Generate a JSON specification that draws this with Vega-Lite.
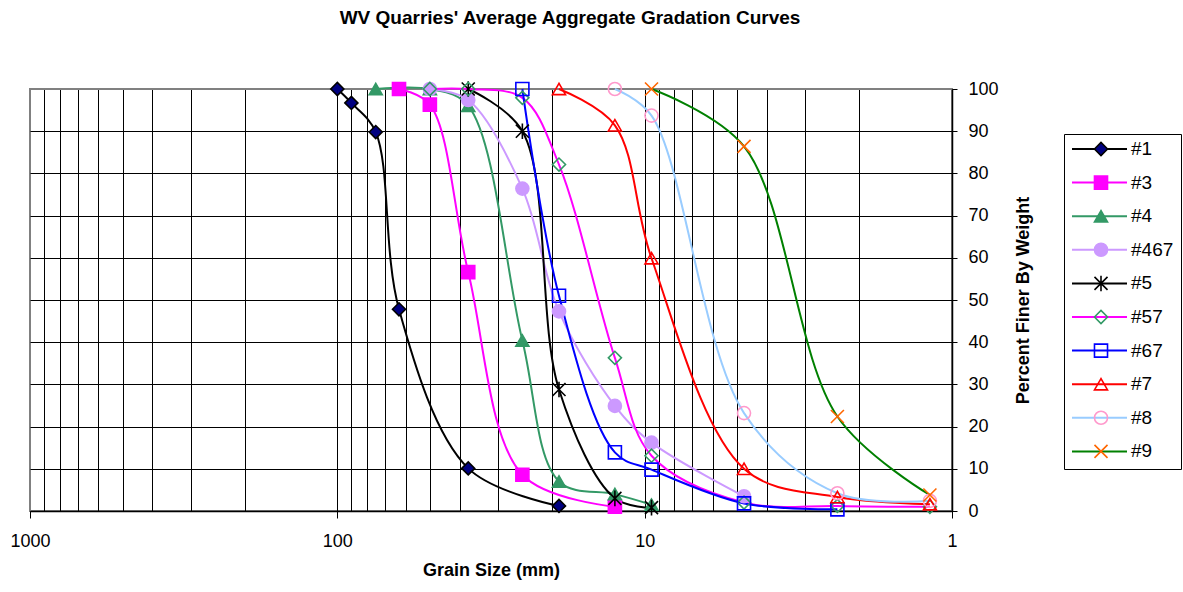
{
  "$schema": "https://vega.github.io/schema/vega-lite/v6.json",
  "width": 922,
  "height": 422,
  "autosize": {"type": "none"},
  "padding": {"left": 30, "top": 89, "right": 231, "bottom": 81},
  "background": "white",
  "config": {
    "font": "Liberation Sans",
    "view": {"stroke": "#808080", "strokeWidth": 2}
  },
  "title": {
    "text": "WV Quarries' Average Aggregate Gradation Curves",
    "font": "Liberation Sans",
    "fontSize": 19,
    "fontWeight": "bold",
    "color": "black",
    "anchor": "middle",
    "frame": "group",
    "dx": 79,
    "offset": 50
  },
  "data": {
    "values": [
      {"series": "#1", "size": 100, "pct": 100},
      {"series": "#1", "size": 90, "pct": 96.7},
      {"series": "#1", "size": 75, "pct": 89.8},
      {"series": "#1", "size": 63, "pct": 47.8},
      {"series": "#1", "size": 37.5, "pct": 10.1},
      {"series": "#1", "size": 19, "pct": 1.2},
      {"series": "#3", "size": 63, "pct": 100},
      {"series": "#3", "size": 50, "pct": 96.3},
      {"series": "#3", "size": 37.5, "pct": 56.6},
      {"series": "#3", "size": 25, "pct": 8.6},
      {"series": "#3", "size": 12.5, "pct": 1.0},
      {"series": "#4", "size": 75, "pct": 100},
      {"series": "#4", "size": 50, "pct": 100},
      {"series": "#4", "size": 37.5, "pct": 96.0},
      {"series": "#4", "size": 25, "pct": 40.4},
      {"series": "#4", "size": 19, "pct": 7.0},
      {"series": "#4", "size": 12.5, "pct": 4.0},
      {"series": "#4", "size": 9.5, "pct": 1.5},
      {"series": "#467", "size": 50, "pct": 100},
      {"series": "#467", "size": 37.5, "pct": 97.4},
      {"series": "#467", "size": 25, "pct": 76.4},
      {"series": "#467", "size": 19, "pct": 47.3},
      {"series": "#467", "size": 12.5, "pct": 24.9},
      {"series": "#467", "size": 9.5, "pct": 16.2},
      {"series": "#467", "size": 4.75, "pct": 3.5},
      {"series": "#5", "size": 37.5, "pct": 100},
      {"series": "#5", "size": 25, "pct": 90.0},
      {"series": "#5", "size": 19, "pct": 28.8},
      {"series": "#5", "size": 12.5, "pct": 3.0},
      {"series": "#5", "size": 9.5, "pct": 0.8},
      {"series": "#57", "size": 50, "pct": 100},
      {"series": "#57", "size": 37.5, "pct": 100},
      {"series": "#57", "size": 25, "pct": 97.9},
      {"series": "#57", "size": 19, "pct": 82.1},
      {"series": "#57", "size": 12.5, "pct": 36.3},
      {"series": "#57", "size": 9.5, "pct": 13.1},
      {"series": "#57", "size": 4.75, "pct": 2.0},
      {"series": "#57", "size": 2.36, "pct": 1.2},
      {"series": "#57", "size": 1.18, "pct": 1.0},
      {"series": "#67", "size": 25, "pct": 100},
      {"series": "#67", "size": 19, "pct": 51.0},
      {"series": "#67", "size": 12.5, "pct": 13.9},
      {"series": "#67", "size": 9.5, "pct": 9.8},
      {"series": "#67", "size": 4.75, "pct": 1.8},
      {"series": "#67", "size": 2.36, "pct": 0.4},
      {"series": "#7", "size": 19, "pct": 100},
      {"series": "#7", "size": 12.5, "pct": 91.4},
      {"series": "#7", "size": 9.5, "pct": 59.9},
      {"series": "#7", "size": 4.75, "pct": 10.0},
      {"series": "#7", "size": 2.36, "pct": 3.3},
      {"series": "#7", "size": 1.18, "pct": 1.6},
      {"series": "#8", "size": 12.5, "pct": 100},
      {"series": "#8", "size": 9.5, "pct": 93.7},
      {"series": "#8", "size": 4.75, "pct": 23.2},
      {"series": "#8", "size": 2.36, "pct": 4.2},
      {"series": "#8", "size": 1.18, "pct": 2.4},
      {"series": "#9", "size": 9.5, "pct": 100},
      {"series": "#9", "size": 4.75, "pct": 86.4},
      {"series": "#9", "size": 2.36, "pct": 22.4},
      {"series": "#9", "size": 1.18, "pct": 3.8}
    ]
  },
  "encoding": {
    "x": {
      "field": "size",
      "type": "quantitative",
      "scale": {"type": "log", "domain": [1, 1000], "reverse": true, "nice": false},
      "axis": {
        "values": [1, 2, 3, 4, 5, 6, 7, 8, 9, 10, 20, 30, 40, 50, 60, 70, 80, 90, 100, 200, 300, 400, 500, 600, 700, 800, 900, 1000],
        "format": "d",
        "labelExpr": "indexof([1, 10, 100, 1000], datum.value) >= 0 ? datum.label : ''",
        "labelOverlap": false,
        "labelFlush": false,
        "labelFontSize": 18,
        "labelColor": "black",
        "labelPadding": 14,
        "tickSize": 7,
        "tickColor": "black",
        "tickOpacity": {"condition": {"test": "indexof([1, 10, 100, 1000], datum.value) >= 0", "value": 1}, "value": 0},
        "domainColor": "black",
        "domainWidth": 1.5,
        "grid": true,
        "gridColor": {"condition": {"test": "datum.value == 1000", "value": "#808080"}, "value": "black"},
        "gridWidth": 1,
        "gridOpacity": 1,
        "title": "Grain Size  (mm)",
        "titleFontSize": 18,
        "titleFontWeight": "bold",
        "titleColor": "black",
        "titlePadding": 11
      }
    },
    "y": {
      "field": "pct",
      "type": "quantitative",
      "scale": {"domain": [0, 100], "nice": false},
      "axis": {
        "orient": "right",
        "values": [0, 10, 20, 30, 40, 50, 60, 70, 80, 90, 100],
        "labelFontSize": 18,
        "labelColor": "black",
        "labelPadding": 11,
        "tickSize": 5,
        "tickColor": "black",
        "domainColor": "black",
        "domainWidth": 1.5,
        "grid": true,
        "gridColor": {"condition": {"test": "datum.value == 100", "value": "#808080"}, "value": "black"},
        "gridWidth": 1,
        "gridOpacity": 1,
        "title": "Percent Finer By Weight",
        "titleAngle": 270,
        "titleFontSize": 18,
        "titleFontWeight": "bold",
        "titleColor": "black",
        "titlePadding": 34
      }
    }
  },
  "layer": [
    {
      "mark": {"type": "line", "interpolate": "catmull-rom", "strokeWidth": 2},
      "encoding": {
        "color": {
          "field": "series",
          "type": "nominal",
          "scale": {
            "domain": ["#1", "#3", "#4", "#467", "#5", "#57", "#67", "#7", "#8", "#9"],
            "range": ["#000000", "#FF00FF", "#339966", "#CC99FF", "#000000", "#FF00FF", "#0000FF", "#FF0000", "#99CCFF", "#008000"]
          },
          "legend": {
            "orient": "none",
            "legendX": 1034,
            "legendY": 45,
            "title": null,
            "symbolType": "stroke",
            "symbolSize": 3025,
            "symbolStrokeWidth": 2,
            "clipHeight": 16,
            "labelFontSize": 19,
            "labelFont": "Liberation Sans",
            "labelColor": "black",
            "labelOffset": 3,
            "strokeColor": "black",
            "padding": 7,
            "rowPadding": 14.6
          }
        }
      }
    },
    {
      "mark": {"type": "point", "opacity": 1, "size": 170, "strokeWidth": 1.6},
      "encoding": {
        "shape": {
          "field": "series",
          "type": "nominal",
          "scale": {
            "range": ["diamond", "square", "triangle-up", "circle", "M-1,-1L1,1M-1,1L1,-1M0,-1.2L0,1.2", "diamond", "square", "triangle-up", "circle", "M-1,-1L1,1M-1,1L1,-1"]
          },
          "legend": {
            "orient": "none",
            "legendX": 1034,
            "legendY": 45,
            "title": null,
            "symbolSize": 170,
            "symbolStrokeWidth": 1.6,
            "symbolOffset": 20.5,
            "clipHeight": 16,
            "labelFontSize": 19,
            "labelExpr": "''",
            "labelOffset": 3,
            "padding": 7,
            "rowPadding": 14.6
          }
        },
        "fill": {
          "field": "series",
          "type": "nominal",
          "scale": {
            "range": ["#000080", "#FF00FF", "#339966", "#CC99FF", "transparent", "transparent", "transparent", "transparent", "transparent", "transparent"]
          },
          "legend": {
            "orient": "none",
            "legendX": 1034,
            "legendY": 45,
            "title": null,
            "symbolSize": 170,
            "symbolStrokeWidth": 1.6,
            "symbolOffset": 20.5,
            "clipHeight": 16,
            "labelFontSize": 19,
            "labelExpr": "''",
            "labelOffset": 3,
            "padding": 7,
            "rowPadding": 14.6
          }
        },
        "stroke": {
          "field": "series",
          "type": "nominal",
          "scale": {
            "range": ["#000000", "#FF00FF", "#339966", "#CC99FF", "#000000", "#339966", "#0000FF", "#FF0000", "#FF99CC", "#FF6600"]
          },
          "legend": {
            "orient": "none",
            "legendX": 1034,
            "legendY": 45,
            "title": null,
            "symbolSize": 170,
            "symbolStrokeWidth": 1.6,
            "symbolOffset": 20.5,
            "clipHeight": 16,
            "labelFontSize": 19,
            "labelExpr": "''",
            "labelOffset": 3,
            "padding": 7,
            "rowPadding": 14.6
          }
        }
      }
    }
  ]
}
